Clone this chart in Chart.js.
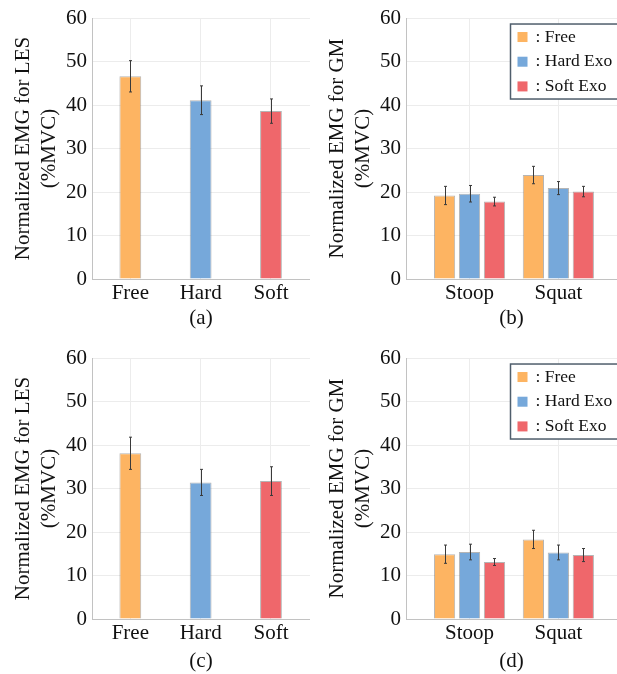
<!DOCTYPE html>
<html>
<head>
<meta charset="utf-8">
<script src="https://cdn.jsdelivr.net/npm/chart.js@4.4.0/dist/chart.umd.min.js"></script>
<style>
  body { margin: 0; background: #fff; overflow: hidden; }
  canvas { position: absolute; }
</style>
</head>
<body>
<canvas id="panelA" width="310" height="340" style="left:0;top:0"></canvas>
<canvas id="panelB" width="307" height="340" style="left:310px;top:0"></canvas>
<canvas id="panelC" width="310" height="340" style="left:0;top:340px"></canvas>
<canvas id="panelD" width="307" height="340" style="left:310px;top:340px"></canvas>
<script>
// categories
const conditions = ['Free', 'Hard', 'Soft'];
const legendNames = ['Free', 'Hard Exo', 'Soft Exo'];
const tasks = ['Stoop', 'Squat'];
const colors = ['#fdb462', '#76a8da', '#ef676b'];

// (a) LES
const lesA = [46.6, 41.1, 38.6];
const lesAErr = [3.6, 3.3, 2.8];
// (b) GM, [Stoop, Squat]
const gmFreeB = [19.2, 23.9];
const gmFreeBErr = [2.1, 2.0];
const gmHardB = [19.6, 20.9];
const gmHardBErr = [1.9, 1.5];
const gmSoftB = [17.8, 20.1];
const gmSoftBErr = [1.0, 1.2];
// (c) LES
const lesC = [38.1, 31.4, 31.7];
const lesCErr = [3.7, 3.0, 3.3];
// (d) GM, [Stoop, Squat]
const gmFreeD = [14.9, 18.3];
const gmFreeDErr = [2.1, 2.1];
const gmHardD = [15.4, 15.3];
const gmHardDErr = [1.8, 1.7];
const gmSoftD = [13.1, 14.7];
const gmSoftDErr = [0.8, 1.5];

const serif = '"Liberation Serif", "Times New Roman", serif';

// draws the error whiskers on top of every bar
const errorBars = {
  id: 'errorBars',
  afterDatasetsDraw(chart) {
    const ctx = chart.ctx;
    const y = chart.scales.y;
    ctx.save();
    ctx.strokeStyle = '#3a3a3a';
    ctx.lineWidth = 1;
    chart.data.datasets.forEach((ds, i) => {
      chart.getDatasetMeta(i).data.forEach((bar, j) => {
        const v = ds.data[j].y, e = ds.errors[j];
        const x = Math.round(bar.x) + 0.5;
        const top = y.getPixelForValue(v + e);
        const bot = y.getPixelForValue(v - e);
        ctx.beginPath();
        ctx.moveTo(x, top); ctx.lineTo(x, bot);
        ctx.moveTo(x - 1.5, top); ctx.lineTo(x + 1.5, top);
        ctx.moveTo(x - 1.5, bot); ctx.lineTo(x + 1.5, bot);
        ctx.stroke();
      });
    });
    ctx.restore();
  }
};

// boxed legend in the upper right of the plot
const boxLegend = {
  id: 'boxLegend',
  afterDraw(chart) {
    const ctx = chart.ctx;
    const area = chart.chartArea;
    const left = area.left + 104.5, top = area.top + 6;
    ctx.save();
    ctx.fillStyle = '#fff';
    ctx.fillRect(left, top, 130, 75);
    ctx.strokeStyle = '#4f5e6c';
    ctx.lineWidth = 1.5;
    ctx.strokeRect(left, top, 130, 75);
    ctx.font = '17.5px ' + serif;
    ctx.textBaseline = 'middle';
    chart.data.datasets.forEach((ds, i) => {
      const cy = top + 13 + i * 24.7;
      ctx.fillStyle = ds.backgroundColor;
      ctx.fillRect(left + 7, cy - 5, 10, 10);
      ctx.fillStyle = '#111';
      ctx.fillText(': ' + ds.label, left + 25, cy);
    });
    ctx.restore();
  }
};

function panel(id, cats, datasets, yTitle, caption, o) {
  const font = { family: serif, size: 21, lineHeight: 1.24 };
  new Chart(document.getElementById(id), {
    type: 'bar',
    data: { datasets: datasets },
    options: {
      responsive: false,
      animation: false,
      layout: { padding: { top: 18, left: 0, right: 0, bottom: 0 } },
      datasets: { bar: { barPercentage: o.barPct, categoryPercentage: o.catPct } },
      plugins: { legend: { display: false }, tooltip: { enabled: false } },
      scales: {
        x: {
          type: 'linear', min: o.xmin, max: o.xmax, offset: false,
          afterBuildTicks: s => { s.ticks = cats.map((c, i) => ({ value: i + 1 })); },
          afterFit: s => { s.height = 61; },
          ticks: { callback: v => cats[v - 1], font: font, color: '#111', padding: 1 },
          grid: { color: '#ececec', drawTicks: false, offset: false },
          border: { color: '#c2c2c2' },
          title: { display: true, text: caption, font: font, color: '#111', padding: { top: 0, bottom: o.capPad } }
        },
        y: {
          min: 0, max: 60,
          afterFit: s => { s.width = o.yWidth; },
          ticks: { stepSize: 10, font: font, color: '#111', padding: 5 },
          grid: { color: '#ececec', drawTicks: false },
          border: { color: '#c2c2c2' },
          title: { display: true, text: [yTitle, '(%MVC)'], font: font, color: '#111', padding: { top: o.yWidth - 82, bottom: 0 } }
        }
      }
    },
    plugins: o.legend ? [errorBars, boxLegend] : [errorBars]
  });
}

function pts(vals) { return vals.map((v, i) => ({ x: i + 1, y: v })); }

function singleSet(vals, errs) {
  return [{ data: pts(vals), errors: errs, backgroundColor: colors,
    borderColor: 'rgba(90,90,90,0.45)', borderWidth: 1 }];
}

function groupSets(series, errs) {
  return series.map((vals, k) => ({ label: legendNames[k], data: pts(vals), errors: errs[k],
    backgroundColor: colors[k], borderColor: 'rgba(90,90,90,0.45)', borderWidth: 1 }));
}

const single = { barPct: 0.31, catPct: 1, xmin: 0.455, xmax: 3.555, yWidth: 92 };
const grouped = { barPct: 0.85, catPct: 0.843, xmin: 0.285, xmax: 2.66, yWidth: 96, legend: true };

panel('panelA', conditions, singleSet(lesA, lesAErr), 'Normalized EMG for LES', '(a)', Object.assign({ capPad: 8 }, single));
panel('panelB', tasks, groupSets([gmFreeB, gmHardB, gmSoftB], [gmFreeBErr, gmHardBErr, gmSoftBErr]),
  'Normalized EMG for GM', '(b)', Object.assign({ capPad: 8 }, grouped));
panel('panelC', conditions, singleSet(lesC, lesCErr), 'Normalized EMG for LES', '(c)', Object.assign({ capPad: 5 }, single));
panel('panelD', tasks, groupSets([gmFreeD, gmHardD, gmSoftD], [gmFreeDErr, gmHardDErr, gmSoftDErr]),
  'Normalized EMG for GM', '(d)', Object.assign({ capPad: 5 }, grouped));
</script>
</body>
</html>
